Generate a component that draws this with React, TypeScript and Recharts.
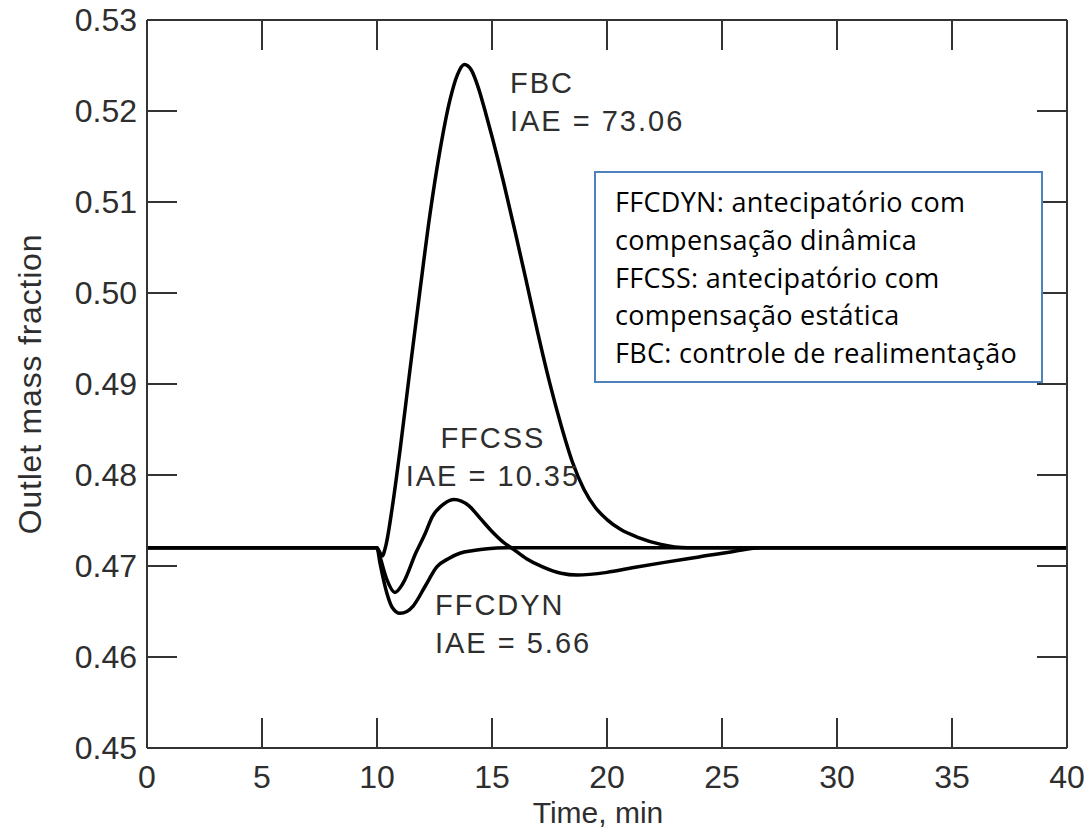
import { LineChart, Line, XAxis, YAxis, ReferenceDot } from "recharts";

// time (min) / outlet mass fraction
const fbcTime = [0, 10, 10.1, 10.22, 10.39, 10.65, 11.0, 11.43, 11.87, 12.3, 12.74, 13.17, 13.5, 13.8, 14.1, 14.4, 14.7, 15.0, 15.5, 16.0, 16.5, 17.0, 17.5, 18.0, 18.5, 19.0, 19.5, 20.0, 20.6, 21.4, 22.3, 23.5, 40];
const fbcValue = [0.472, 0.472, 0.4716, 0.4711, 0.4723, 0.4762, 0.4827, 0.4915, 0.5003, 0.5086, 0.5157, 0.5212, 0.524, 0.5251, 0.5245, 0.5226, 0.52, 0.5172, 0.5122, 0.5068, 0.5012, 0.4955, 0.4902, 0.4855, 0.4814, 0.4784, 0.4764, 0.4751, 0.474, 0.4731, 0.4724, 0.472, 0.472];

const ffcssTime = [0, 10, 10.13, 10.43, 10.78, 11.13, 11.7, 12.1, 12.4, 12.9, 13.35, 14.0, 14.5, 15.0, 15.5, 15.9, 16.5, 17.2, 18.0, 18.7, 20.0, 21.1, 22.5, 24.0, 25.5, 26.7, 40];
const ffcssValue = [0.472, 0.472, 0.471, 0.4685, 0.4671, 0.4681, 0.4715, 0.4736, 0.4754, 0.4768, 0.4773, 0.4766, 0.4752, 0.4738, 0.4726, 0.4719, 0.4708, 0.4699, 0.4692, 0.469, 0.4693, 0.4698, 0.4704, 0.471, 0.4716, 0.472, 0.472];

const ffcdynTime = [0, 10, 10.13, 10.43, 10.65, 11.0, 11.3, 11.57, 12.1, 12.6, 13.1, 13.6, 14.2, 14.8, 15.6, 40];
const ffcdynValue = [0.472, 0.472, 0.4703, 0.467, 0.4655, 0.4648, 0.465, 0.4656, 0.4678, 0.4699, 0.4708, 0.4714, 0.4717, 0.4719, 0.472, 0.472];

const timeTicks = [0, 5, 10, 15, 20, 25, 30, 35, 40];
const fractionTicks = [0.45, 0.46, 0.47, 0.48, 0.49, 0.5, 0.51, 0.52, 0.53];

const legendLines = [
  "FFCDYN: antecipatório com",
  "compensação dinâmica",
  "FFCSS: antecipatório com",
  "compensação estática",
  "FBC: controle de realimentação",
];

const toPoints = (time: number[], value: number[]) => time.map((t, i) => ({ t, v: value[i] }));

// FBC is drawn against the mirrored top/right axes (same domains) so those axes get ticks
const series = [
  { name: "FBC", data: toPoints(fbcTime, fbcValue), xId: "top", yId: "right" },
  { name: "FFCSS", data: toPoints(ffcssTime, ffcssValue), xId: "0", yId: "0" },
  { name: "FFCDYN", data: toPoints(ffcdynTime, ffcdynValue), xId: "0", yId: "0" },
];

const notes = [
  { lines: ["FBC", "IAE = 73.06"], t: 15.78, v: 0.522, anchor: "start" },
  { lines: ["FFCSS", "IAE = 10.35"], t: 15.04, v: 0.483, anchor: "middle" },
  { lines: ["FFCDYN", "IAE = 5.66"], t: 12.52, v: 0.4646, anchor: "start" },
];

const FONT = "'Liberation Sans', Arial, sans-serif";
const INK = "#2e2e2e";

function noteLabel(lines: string[], anchor: string) {
  return (props: any) => {
    const vb = props.viewBox || {};
    const x = vb.x ?? props.x;
    const y = vb.y ?? props.y;
    return (
      <text x={x} y={y} textAnchor={anchor} fill={INK} fontSize={29} letterSpacing={2} fontFamily={FONT}>
        {lines.map((s, i) => (
          <tspan key={i} x={x} dy={i === 0 ? 0 : 38}>
            {s}
          </tspan>
        ))}
      </text>
    );
  };
}

const noLabel = () => "";

export default function App() {
  const tickStyle = { fill: INK, fontSize: 32, fontFamily: FONT };
  return (
    <div style={{ position: "absolute", left: 0, top: 0, width: 1089, height: 833, background: "#fff" }}>
      <LineChart width={1089} height={833} margin={{ top: 19, right: 21, left: 0, bottom: 0 }}>
        <XAxis
          xAxisId="0"
          dataKey="t"
          type="number"
          domain={[0, 40]}
          ticks={timeTicks}
          height={85}
          tickSize={-30}
          tickMargin={47}
          stroke="#333"
          strokeWidth={2}
          tick={tickStyle}
          label={{ value: "Time, min", position: "insideBottom", offset: 10, dx: -9, fill: INK, fontSize: 30, fontFamily: FONT }}
        />
        <XAxis
          xAxisId="top"
          orientation="top"
          dataKey="t"
          type="number"
          domain={[0, 40]}
          ticks={timeTicks}
          height={1}
          tickSize={-30}
          tickFormatter={noLabel}
          stroke="#333"
          strokeWidth={2}
        />
        <YAxis
          yAxisId="0"
          type="number"
          domain={[0.45, 0.53]}
          ticks={fractionTicks}
          width={147}
          tickSize={-30}
          tickMargin={40}
          stroke="#333"
          strokeWidth={2}
          tick={tickStyle}
          tickFormatter={(v: number) => v.toFixed(2)}
          label={{ value: "Outlet mass fraction", angle: -90, position: "center", dx: -44, fill: INK, fontSize: 32, letterSpacing: 0.8, fontFamily: FONT }}
        />
        <YAxis
          yAxisId="right"
          orientation="right"
          type="number"
          domain={[0.45, 0.53]}
          ticks={fractionTicks}
          width={1}
          tickSize={-30}
          tickFormatter={noLabel}
          stroke="#333"
          strokeWidth={2}
        />
        {series.map((s) => (
          <Line
            key={s.name}
            xAxisId={s.xId}
            yAxisId={s.yId}
            data={s.data}
            dataKey="v"
            name={s.name}
            type="monotone"
            stroke="#000"
            strokeWidth={3.5}
            dot={false}
            activeDot={false}
            isAnimationActive={false}
          />
        ))}
        {notes.map((n) => (
          <ReferenceDot
            key={n.lines[0]}
            xAxisId="0"
            yAxisId="0"
            x={n.t}
            y={n.v}
            r={0}
            fill="none"
            stroke="none"
            label={noteLabel(n.lines, n.anchor)}
          />
        ))}
      </LineChart>
      <div
        style={{
          position: "absolute",
          left: 594,
          top: 171,
          width: 449,
          height: 212,
          boxSizing: "border-box",
          border: "2px solid #4f81bd",
          background: "#fff",
          padding: "10px 0 0 19px",
          fontFamily: "'Open Sans', Lato, sans-serif",
          fontSize: 27,
          letterSpacing: 0.3,
          lineHeight: "37.75px",
          color: "#000",
          whiteSpace: "nowrap",
        }}
      >
        {legendLines.map((l) => (
          <div key={l}>{l}</div>
        ))}
      </div>
    </div>
  );
}
